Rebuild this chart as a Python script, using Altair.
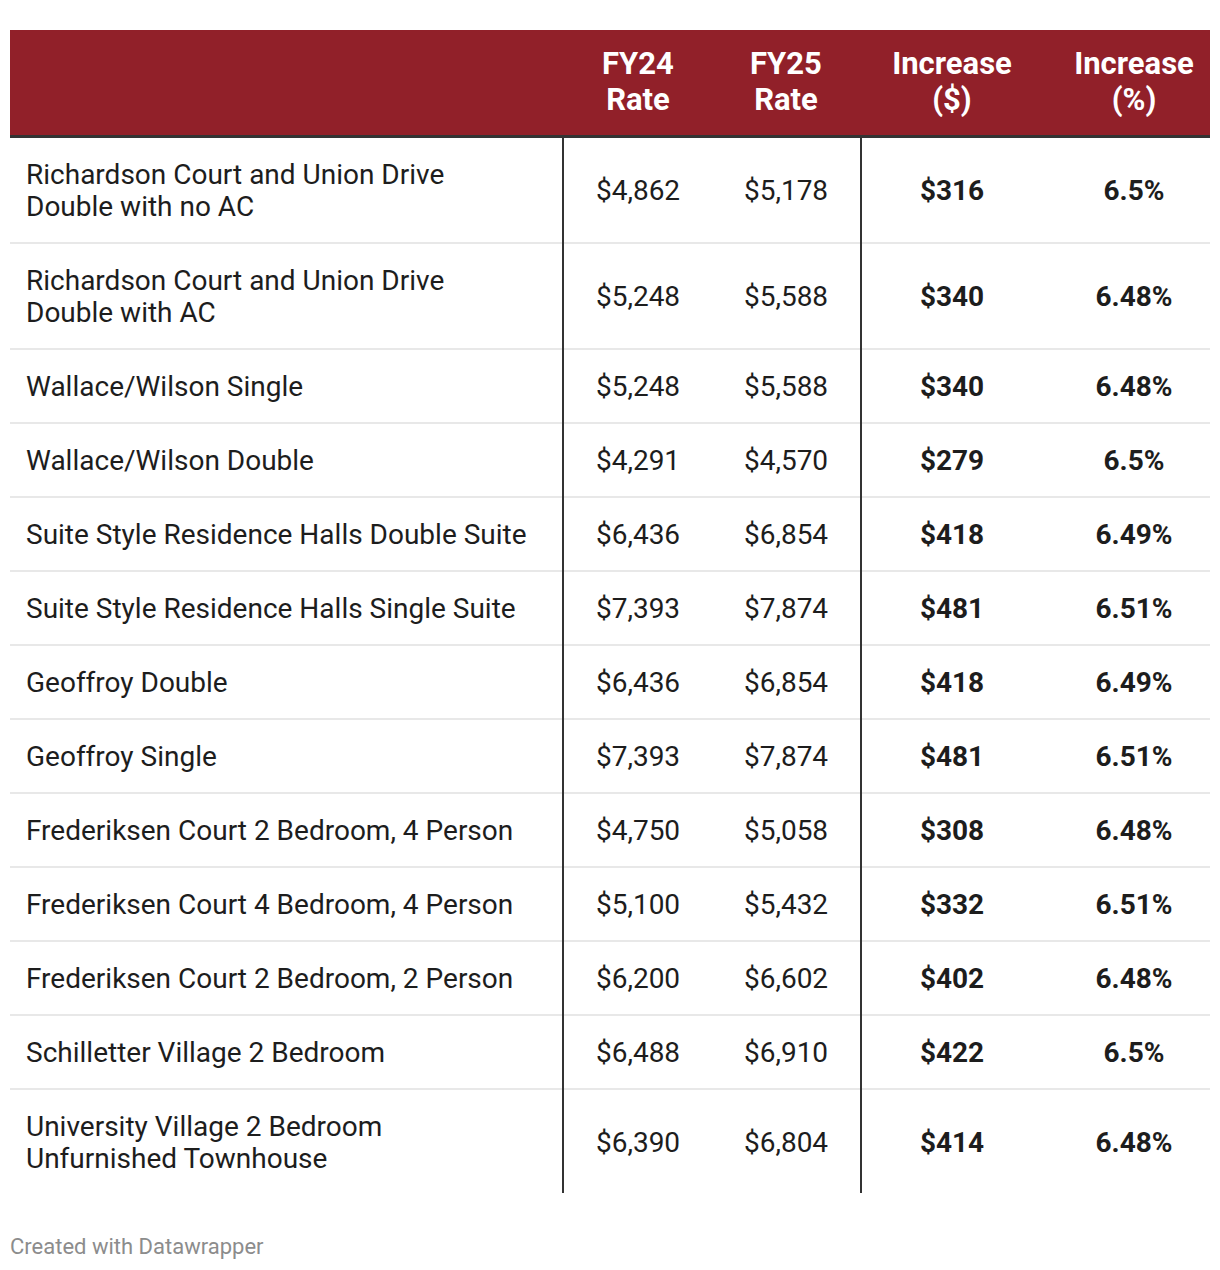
import altair as alt
import pandas as pd

# ---------------- data ----------------
names = [
    "Richardson Court and Union Drive\nDouble with no AC",
    "Richardson Court and Union Drive\nDouble with AC",
    "Wallace/Wilson Single",
    "Wallace/Wilson Double",
    "Suite Style Residence Halls Double Suite",
    "Suite Style Residence Halls Single Suite",
    "Geoffroy Double",
    "Geoffroy Single",
    "Frederiksen Court 2 Bedroom, 4 Person",
    "Frederiksen Court 4 Bedroom, 4 Person",
    "Frederiksen Court 2 Bedroom, 2 Person",
    "Schilletter Village 2 Bedroom",
    "University Village 2 Bedroom\nUnfurnished Townhouse",
]
fy24 = [4862, 5248, 5248, 4291, 6436, 7393, 6436, 7393, 4750, 5100, 6200, 6488, 6390]
fy25 = [5178, 5588, 5588, 4570, 6854, 7874, 6854, 7874, 5058, 5432, 6602, 6910, 6804]
inc_d = [316, 340, 340, 279, 418, 481, 418, 481, 308, 332, 402, 422, 414]
inc_p = [6.5, 6.48, 6.48, 6.5, 6.49, 6.51, 6.49, 6.51, 6.48, 6.51, 6.48, 6.5, 6.48]
headers = ["FY24\nRate", "FY25\nRate", "Increase\n($)", "Increase\n(%)"]
footer = "Created with Datawrapper"

# ---------------- layout ----------------
W, H = 1204, 1254
TL, TR = 10, 1210
HEAD_T, HEAD_B = 30, 135
BODY_T = 137
LABEL_X = 26
COL_X = [638, 786, 952, 1134]
VLINES = [563, 861]
HEADER_COLOR = "#912029"
DARK = "#333333"
BODY_LH = 32
HEAD_LH = 36

xs = alt.Scale(domain=[8, 8 + W])
ys = alt.Scale(domain=[8, 8 + H], reverse=True)
X = lambda f: alt.X(f, type="quantitative", scale=xs, axis=None)
Y = lambda f: alt.Y(f, type="quantitative", scale=ys, axis=None)

# row geometry derived from line counts
tops, centers, first_line = [], [], []
y = BODY_T
for n in names:
    extra = n.count("\n")
    h = 74 + BODY_LH * extra
    tops.append(y)
    centers.append(y + h / 2)
    first_line.append(y + h / 2 - BODY_LH * extra / 2)
    y += h
BODY_B = y

def money(v):
    return f"${v:,}"

rows = pd.DataFrame({
    "label": names,
    "yc": centers,
    "y1": first_line,
    "fy24": [money(v) for v in fy24],
    "fy25": [money(v) for v in fy25],
    "incd": [money(v) for v in inc_d],
    "incp": [f"{v:g}%" for v in inc_p],
})
rows["lx"] = LABEL_X

def col_df(field, i):
    return pd.DataFrame({"t": rows[field], "yc": rows["yc"], "x": COL_X[i]})

header_bg = alt.Chart(pd.DataFrame({"x": [TL], "x2": [TR], "y": [HEAD_T], "y2": [HEAD_B]})).mark_rect(
    color=HEADER_COLOR
).encode(x=X("x"), x2="x2", y=Y("y"), y2="y2")

seps = pd.DataFrame({"y": tops[1:], "x": TL, "x2": TR})
sep_rules = alt.Chart(seps).mark_rule(color="#e8e8e8", strokeWidth=2).encode(
    x=X("x"), x2="x2", y=Y("y")
)

head_rule = alt.Chart(pd.DataFrame({"y": [HEAD_B + 1.5], "x": [TL], "x2": [TR]})).mark_rule(
    color=DARK, strokeWidth=3
).encode(x=X("x"), x2="x2", y=Y("y"))

vrules = alt.Chart(pd.DataFrame({"x": VLINES, "y": BODY_T, "y2": BODY_B - 2})).mark_rule(
    color=DARK, strokeWidth=2
).encode(x=X("x"), y=Y("y"), y2="y2")

head_y1 = (HEAD_T + HEAD_B) / 2 - HEAD_LH / 2
head_text = alt.Chart(pd.DataFrame({"t": headers, "x": COL_X, "yc": head_y1})).mark_text(
    font="Roboto", fontSize=31, fontWeight="bold", color="white", align="center",
    baseline="middle", lineBreak="\n", lineHeight=HEAD_LH
).encode(x=X("x"), y=Y("yc"), text="t:N")

label_text = alt.Chart(rows).mark_text(
    font="Roboto", fontSize=28, color="#1d1d1d", align="left", baseline="middle",
    lineBreak="\n", lineHeight=BODY_LH, dy=2
).encode(x=X("lx"), y=Y("y1"), text="label:N")

num_layers = []
for i, (field, bold) in enumerate([("fy24", False), ("fy25", False), ("incd", True), ("incp", True)]):
    num_layers.append(
        alt.Chart(col_df(field, i)).mark_text(
            font="Roboto", fontSize=28, fontWeight="bold" if bold else "normal",
            color="#1d1d1d", align="center", baseline="middle", dy=2
        ).encode(x=X("x"), y=Y("yc"), text="t:N")
    )

foot = alt.Chart(pd.DataFrame({"t": [footer], "x": [TL], "y": [1247]})).mark_text(
    font="Roboto", fontSize=22, color="#8c8c8c", align="left", baseline="middle"
).encode(x=X("x"), y=Y("y"), text="t:N")

chart = alt.layer(
    header_bg, sep_rules, head_rule, vrules, head_text, label_text, *num_layers, foot
).properties(
    width=W, height=H, padding=0, autosize=alt.AutoSizeParams(type="none"),
    background="white"
).configure_view(stroke=None)

chart.save("out.html", embed_options={"renderer": "svg", "actions": False})
